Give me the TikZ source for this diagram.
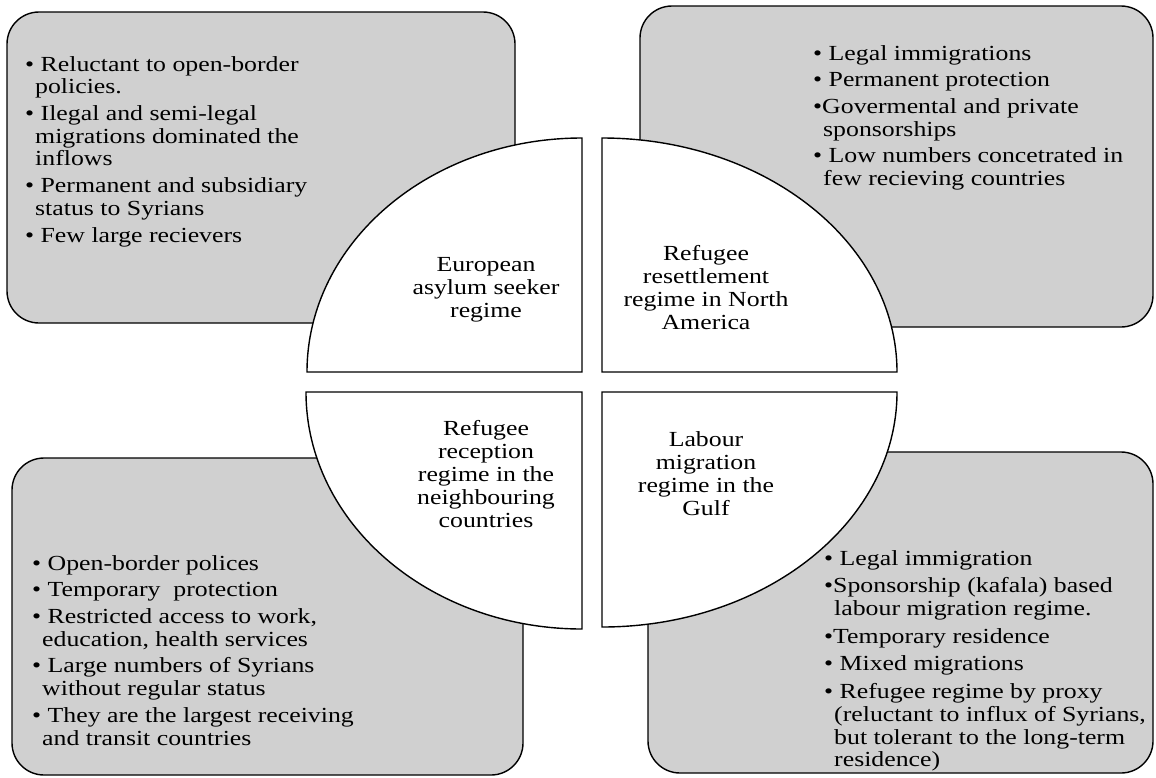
\documentclass[tikz,border=0pt]{standalone}
\usepackage{fontspec}
\setmainfont{Liberation Serif}[FakeStretch=1.2]
\usepackage{tikz}
\definecolor{boxgray}{RGB}{208,208,208}
\newcommand{\cont}{\hspace*{10pt}}
\tikzset{regimebox/.style={
    % The shape:
    rounded corners=32pt,
    % The border:
    line width=1.4pt,
    draw=black,
    % The filling:
    fill=boxgray,
    },
    quarter/.style={
    line width=1.4pt,
    draw=black,
    fill=white,
    },
    regimename/.style={
    font=\fontsize{21.5}{23}\selectfont,
    align=center,
    inner sep=0pt,
    anchor=north,
    },
    itemlist/.style={
    font=\fontsize{21.5}{22.7}\selectfont,
    align=left,
    inner sep=0pt,
    anchor=north west,
    },
}

\begin{document}
\begin{tikzpicture}[x=1pt, y=1pt]
    \useasboundingbox (0,0) rectangle (1156,-777);
    % grey boxes in the corners
    \draw[regimebox] (7,-12)    rectangle (515,-323);
    \draw[regimebox] (640,-6)   rectangle (1153,-327);
    \draw[regimebox] (12,-458)  rectangle (523,-775);
    \draw[regimebox] (648,-452) rectangle (1153,-773);
    % the four quarters in the middle
    \draw[quarter] (582,-372) -- (307,-372)
        arc[start angle=180, end angle=90, x radius=275, y radius=234] -- cycle;
    \draw[quarter] (602,-372) -- (602,-138)
        arc[start angle=90, end angle=0, x radius=295, y radius=234] -- cycle;
    \draw[quarter] (582,-392) -- (582,-629)
        arc[start angle=270, end angle=180, x radius=276, y radius=237] -- cycle;
    \draw[quarter] (602,-392) -- (897,-392)
        arc[start angle=0, end angle=-90, x radius=295, y radius=235] -- cycle;

    \node (europe)     [regimename] at (486,-257) {European\\ asylum seeker\\ regime};
    \node (america)    [regimename] at (706,-245) {Refugee\\ resettlement\\ regime in North\\ America};
    \node (neighbours) [regimename] at (486,-420) {Refugee\\ reception\\ regime in the\\ neighbouring\\ countries};
    \node (gulf)       [regimename] at (706,-431) {Labour\\ migration\\ regime in the\\ Gulf};

    \node (eulist) [itemlist] at (25,-56) {%
        \textbullet\ Reluctant to open-border\\
        \cont policies.\\[4pt]
        \textbullet\ Ilegal and semi-legal\\
        \cont migrations dominated the\\
        \cont inflows\\[4pt]
        \textbullet\ Permanent and subsidiary\\
        \cont status to Syrians\\[4pt]
        \textbullet\ Few large recievers};
    \node (nalist) [itemlist] at (813,-45) {%
        \textbullet\ Legal immigrations\\[4pt]
        \textbullet\ Permanent protection\\[4pt]
        \textbullet Govermental and private\\
        \cont sponsorships\\[4pt]
        \textbullet\ Low numbers concetrated in\\
        \cont few recieving countries};
    \node (nblist) [itemlist] at (32,-555) {%
        \textbullet\ Open-border polices\\[4pt]
        \textbullet\ Temporary\ \ protection\\[4pt]
        \textbullet\ Restricted access to work,\\
        \cont education, health services\\[4pt]
        \textbullet\ Large numbers of Syrians\\
        \cont without regular status\\[4pt]
        \textbullet\ They are the largest receiving\\
        \cont and transit countries};
    \node (gulflist) [itemlist] at (824,-550) {%
        \textbullet\ Legal immigration\\[5pt]
        \textbullet Sponsorship (kafala) based\\
        \cont labour migration regime.\\[5pt]
        \textbullet Temporary residence\\[5pt]
        \textbullet\ Mixed migrations\\[5pt]
        \textbullet\ Refugee regime by proxy\\
        \cont (reluctant to influx of Syrians,\\
        \cont but tolerant to the long-term\\
        \cont residence)};
\end{tikzpicture}
\end{document}
